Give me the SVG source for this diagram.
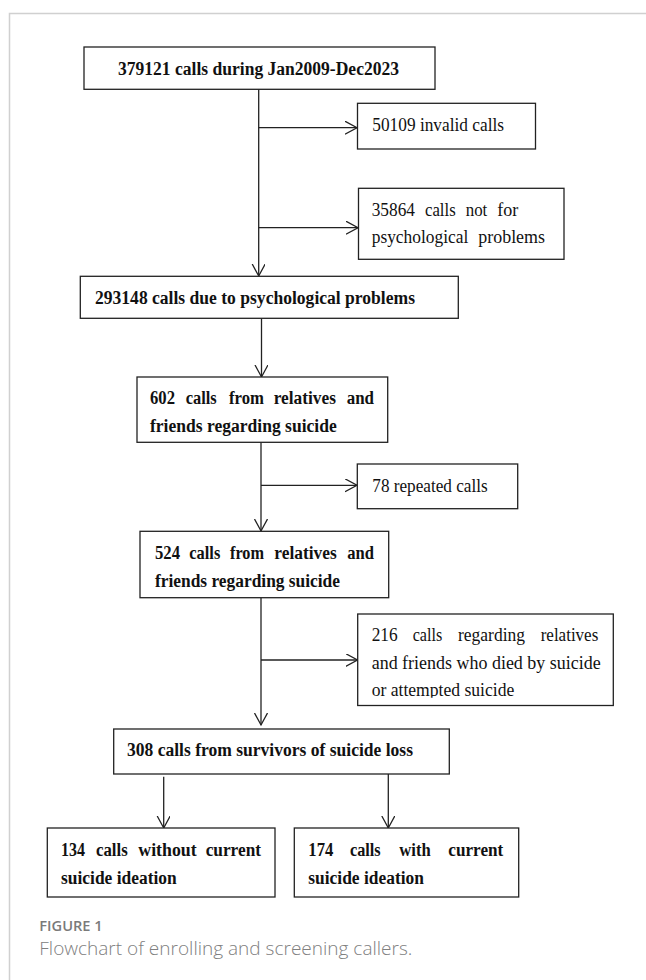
<svg xmlns="http://www.w3.org/2000/svg" width="646" height="980" viewBox="0 0 646 980">
<style>
.box{fill:#fff;stroke:#222;stroke-width:1.3}
.b{font-family:"Liberation Serif","Times New Roman",serif;font-weight:bold;font-size:18.5px;fill:#111}
.r{font-family:"Liberation Serif","Times New Roman",serif;font-size:19px;fill:#111}
.con{fill:none;stroke:#222;stroke-width:1.3}
.cap1{font-family:"Open Sans","Liberation Sans",sans-serif;font-weight:600;font-size:14.5px;fill:#7a7a7a}
.cap2{font-family:"Open Sans","Liberation Sans",sans-serif;font-weight:300;font-size:17.5px;fill:#808080}
</style>
<defs>
<marker id="arr" markerUnits="userSpaceOnUse" markerWidth="14" markerHeight="15" refX="12" refY="6.5" orient="auto">
<path d="M0,0 L12,6.5 L0,13" fill="none" stroke="#222" stroke-width="1.3"/>
</marker>
<clipPath id="clip216"><rect x="357" y="614" width="257" height="83.8"/></clipPath>
</defs>
<rect width="646" height="980" fill="#fff"/>
<path d="M9.5,980 V13.5 H646" fill="none" stroke="#d0d0d0" stroke-width="1.5"/>

<g id="connectors">
<path class="con" d="M258.7,89.3 V276" marker-end="url(#arr)"/>
<path class="con" d="M258.7,127.7 H357" marker-end="url(#arr)"/>
<path class="con" d="M258.7,227.7 H358" marker-end="url(#arr)"/>
<path class="con" d="M261.5,318.3 V377" marker-end="url(#arr)"/>
<path class="con" d="M261,442.3 V531" marker-end="url(#arr)"/>
<path class="con" d="M261,485.3 H357" marker-end="url(#arr)"/>
<path class="con" d="M261,597.7 V725" marker-end="url(#arr)"/>
<path class="con" d="M261,660 H357.5" marker-end="url(#arr)"/>
<path class="con" d="M163.7,776.7 V828" marker-end="url(#arr)"/>
<path class="con" d="M388.3,774 V828" marker-end="url(#arr)"/>
</g>

<g id="n1">
<rect class="box" x="84" y="47" width="351" height="42.3"/>
<text class="b" x="258.5" y="75" text-anchor="middle" textLength="281" lengthAdjust="spacingAndGlyphs">379121 calls during Jan2009-Dec2023</text>
</g>
<g id="n2">
<rect class="box" x="357.5" y="103.3" width="178" height="45.7"/>
<text class="r" x="372.3" y="130.7" textLength="131.7" lengthAdjust="spacingAndGlyphs">50109 invalid calls</text>
</g>
<g id="n3">
<rect class="box" x="358.5" y="188.3" width="205.5" height="71"/>
<text class="r" x="371.7" y="215.7" textLength="43.3" lengthAdjust="spacingAndGlyphs">35864</text>
<text class="r" x="425" y="215.7" textLength="30.7" lengthAdjust="spacingAndGlyphs">calls</text>
<text class="r" x="465.7" y="215.7" textLength="21.6" lengthAdjust="spacingAndGlyphs">not</text>
<text class="r" x="497.3" y="215.7" textLength="21" lengthAdjust="spacingAndGlyphs">for</text>
<text class="r" x="371.7" y="242.7" textLength="96.6" lengthAdjust="spacingAndGlyphs">psychological</text>
<text class="r" x="478.3" y="242.7" textLength="66.7" lengthAdjust="spacingAndGlyphs">problems</text>
</g>
<g id="n4">
<rect class="box" x="80.3" y="276.3" width="378" height="42"/>
<text class="b" x="95" y="304" textLength="320" lengthAdjust="spacingAndGlyphs">293148 calls due to psychological problems</text>
</g>
<g id="n5">
<rect class="box" x="137" y="377" width="250.7" height="65.3"/>
<text class="b" x="150" y="404.3" textLength="25" lengthAdjust="spacingAndGlyphs">602</text>
<text class="b" x="185.7" y="404.3" textLength="31" lengthAdjust="spacingAndGlyphs">calls</text>
<text class="b" x="229" y="404.3" textLength="35" lengthAdjust="spacingAndGlyphs">from</text>
<text class="b" x="273.7" y="404.3" textLength="62.3" lengthAdjust="spacingAndGlyphs">relatives</text>
<text class="b" x="346.7" y="404.3" textLength="27.3" lengthAdjust="spacingAndGlyphs">and</text>
<text class="b" x="150" y="431.5" textLength="186.7" lengthAdjust="spacingAndGlyphs">friends regarding suicide</text>
</g>
<g id="n6">
<rect class="box" x="357.3" y="464" width="160.4" height="44.7"/>
<text class="r" x="372.3" y="492.3" textLength="115.4" lengthAdjust="spacingAndGlyphs">78 repeated calls</text>
</g>
<g id="n7">
<rect class="box" x="140" y="531.3" width="248.7" height="66.4"/>
<text class="b" x="155" y="559" textLength="25" lengthAdjust="spacingAndGlyphs">524</text>
<text class="b" x="189.3" y="559" textLength="31" lengthAdjust="spacingAndGlyphs">calls</text>
<text class="b" x="230" y="559" textLength="34" lengthAdjust="spacingAndGlyphs">from</text>
<text class="b" x="274.3" y="559" textLength="62.4" lengthAdjust="spacingAndGlyphs">relatives</text>
<text class="b" x="347.3" y="559" textLength="26.7" lengthAdjust="spacingAndGlyphs">and</text>
<text class="b" x="155" y="586.5" textLength="185" lengthAdjust="spacingAndGlyphs">friends regarding suicide</text>
</g>
<g id="n8">
<rect class="box" x="357.7" y="614" width="255.6" height="91.5"/>
<text class="r" x="371.7" y="641.3" textLength="26" lengthAdjust="spacingAndGlyphs">216</text>
<text class="r" x="412.7" y="641.3" textLength="29.6" lengthAdjust="spacingAndGlyphs">calls</text>
<text class="r" x="458" y="641.3" textLength="67" lengthAdjust="spacingAndGlyphs">regarding</text>
<text class="r" x="540.7" y="641.3" textLength="57.6" lengthAdjust="spacingAndGlyphs">relatives</text>
<text class="r" x="371.7" y="669" textLength="229" lengthAdjust="spacingAndGlyphs">and friends who died by suicide</text>
<text class="r" x="371.7" y="696.3" textLength="142.6" lengthAdjust="spacingAndGlyphs" clip-path="url(#clip216)">or attempted suicide</text>
</g>
<g id="n9">
<rect class="box" x="113.7" y="729" width="335.6" height="45"/>
<text class="b" x="127" y="756" textLength="286" lengthAdjust="spacingAndGlyphs">308 calls from survivors of suicide loss</text>
</g>
<g id="n10">
<rect class="box" x="47.3" y="828" width="227.7" height="69"/>
<text class="b" x="61" y="856" textLength="24" lengthAdjust="spacingAndGlyphs">134</text>
<text class="b" x="96" y="856" textLength="31.7" lengthAdjust="spacingAndGlyphs">calls</text>
<text class="b" x="138.3" y="856" textLength="58.4" lengthAdjust="spacingAndGlyphs">without</text>
<text class="b" x="205.7" y="856" textLength="55.3" lengthAdjust="spacingAndGlyphs">current</text>
<text class="b" x="61" y="883.5" textLength="115.7" lengthAdjust="spacingAndGlyphs">suicide ideation</text>
</g>
<g id="n11">
<rect class="box" x="294.3" y="828" width="224.4" height="69"/>
<text class="b" x="308.3" y="856" textLength="25" lengthAdjust="spacingAndGlyphs">174</text>
<text class="b" x="350" y="856" textLength="30.7" lengthAdjust="spacingAndGlyphs">calls</text>
<text class="b" x="399.3" y="856" textLength="31.4" lengthAdjust="spacingAndGlyphs">with</text>
<text class="b" x="448.3" y="856" textLength="55" lengthAdjust="spacingAndGlyphs">current</text>
<text class="b" x="308.3" y="883.5" textLength="115.7" lengthAdjust="spacingAndGlyphs">suicide ideation</text>
</g>

<text class="cap1" x="39.3" y="931" textLength="63.4" lengthAdjust="spacingAndGlyphs">FIGURE 1</text>
<text class="cap2" x="39.3" y="955" textLength="373" lengthAdjust="spacingAndGlyphs">Flowchart of enrolling and screening callers.</text>
</svg>
